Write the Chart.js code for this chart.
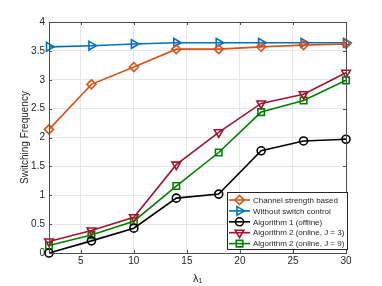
<!DOCTYPE html>
<html>
<head>
<meta charset="utf-8">
<script src="https://cdn.jsdelivr.net/npm/chart.js@4"></script>
<style>
  html, body { margin: 0; padding: 0; background: #fff; }
  #wrap { width: 382px; height: 286px; position: relative; }
</style>
</head>
<body>
<div id="wrap"><canvas id="chart" width="382" height="286"></canvas></div>
<script>
// lambda_1 values on the x axis
const lambdas = [2, 6, 10, 14, 18, 22, 26, 30];
const xTicks = [5, 10, 15, 20, 25, 30];

// switching frequency for each scheme
const channelStrength = [2.14, 2.92, 3.22, 3.53, 3.53, 3.57, 3.60, 3.62];
const noSwitchControl = [3.57, 3.59, 3.62, 3.64, 3.64, 3.64, 3.64, 3.64];
const algo1Offline = [0.0, 0.21, 0.43, 0.95, 1.02, 1.77, 1.94, 1.97];
const algo2J3 = [0.20, 0.39, 0.62, 1.53, 2.09, 2.59, 2.75, 3.12];
const algo2J9 = [0.13, 0.31, 0.55, 1.16, 1.74, 2.44, 2.64, 2.99];

const FONT = 'Liberation Sans, Arial, Helvetica, sans-serif';

function series(label, values, color, style, rotation, radius) {
    return {
        label: label,
        data: lambdas.map((x, i) => ({ x: x, y: values[i] })),
        borderColor: color,
        borderWidth: 1.6,
        pointStyle: style,
        rotation: rotation,
        pointRadius: radius,
        pointBorderWidth: 1.6,
        pointBorderColor: color,
        pointBackgroundColor: 'rgba(0,0,0,0)',
        clip: false,
        tension: 0
    };
}

const datasets = [
    series('Channel strength based', channelStrength, '#D95319', 'rectRot', 0, 4.5),
    series('Without switch control', noSwitchControl, '#0072BD', 'triangle', 90, 5),
    series('Algorithm 1 (offline)', algo1Offline, '#000000', 'circle', 0, 4),
    series('Algorithm 2 (online, J = 3)', algo2J3, '#A2142F', 'triangle', 180, 5),
    series('Algorithm 2 (online, J = 9)', algo2J9, '#008000', 'rect', 0, 4.6)
];

// box around the axes with inward ticks, plus the legend in the lower right
const matlabFrame = {
    id: 'matlabFrame',
    afterDatasetsDraw(chart) {
        const ctx = chart.ctx;
        const a = chart.chartArea;
        const xs = chart.scales.x, ys = chart.scales.y;
        ctx.save();
        ctx.strokeStyle = '#4d4d4d';
        ctx.lineWidth = 1;
        ctx.strokeRect(a.left + 0.5, a.top + 0.5, a.right - a.left, a.bottom - a.top);
        ctx.beginPath();
        xTicks.forEach(t => {
            const px = Math.round(xs.getPixelForValue(t)) + 0.5;
            ctx.moveTo(px, a.bottom); ctx.lineTo(px, a.bottom - 3);
            ctx.moveTo(px, a.top); ctx.lineTo(px, a.top + 3);
        });
        for (let v = 0; v <= 4; v += 0.5) {
            const py = Math.round(ys.getPixelForValue(v)) + 0.5;
            ctx.moveTo(a.left, py); ctx.lineTo(a.left + 3, py);
            ctx.moveTo(a.right, py); ctx.lineTo(a.right - 3, py);
        }
        ctx.stroke();

        // legend
        const bx = 227, by = 192, bw = 120, bh = 57, rowH = 10.9;
        ctx.fillStyle = '#fff';
        ctx.fillRect(bx, by, bw, bh);
        ctx.strokeStyle = '#262626';
        ctx.strokeRect(bx + 0.5, by + 0.5, bw, bh);
        ctx.font = '8px ' + FONT;
        ctx.textBaseline = 'middle';
        chart.data.datasets.forEach((ds, i) => {
            const cy = by + 8 + i * rowH;
            ctx.strokeStyle = ds.borderColor;
            ctx.lineWidth = ds.borderWidth;
            ctx.beginPath();
            ctx.moveTo(bx + 2, cy); ctx.lineTo(bx + 23, cy);
            ctx.stroke();
            ctx.fillStyle = 'rgba(0,0,0,0)';
            Chart.helpers.drawPoint(ctx, {
                pointStyle: ds.pointStyle,
                rotation: ds.rotation,
                radius: ds.pointRadius,
                borderWidth: ds.pointBorderWidth
            }, bx + 12.5, cy);
            ctx.fillStyle = '#262626';
            ctx.fillText(ds.label, bx + 26, cy + 0.5);
        });
        ctx.restore();
    }
};

const ctx = document.getElementById('chart').getContext('2d');
new Chart(ctx, {
    type: 'line',
    data: { datasets: datasets },
    options: {
        responsive: false,
        animation: false,
        layout: { padding: { top: 22, right: 36, left: 19, bottom: 0 } },
        plugins: { legend: { display: false }, tooltip: { enabled: false } },
        scales: {
            x: {
                type: 'linear',
                min: 2,
                max: 30,
                afterBuildTicks: s => { s.ticks = xTicks.map(v => ({ value: v })); },
                afterFit: s => { s.height = 33; },
                ticks: { color: '#262626', font: { family: FONT, size: 10 }, padding: 2, maxRotation: 0 },
                grid: { color: '#e6e6e6', drawTicks: false },
                border: { display: false },
                title: {
                    display: true,
                    text: 'λ₁',
                    color: '#262626',
                    font: { family: FONT, size: 11 },
                    padding: { top: 3, bottom: 0 }
                }
            },
            y: {
                min: 0,
                max: 4,
                afterFit: s => { s.width = 30; },
                ticks: {
                    stepSize: 0.5,
                    color: '#262626',
                    font: { family: FONT, size: 10 },
                    padding: 4,
                    callback: v => String(v)
                },
                grid: { color: '#e6e6e6', drawTicks: false },
                border: { display: false },
                title: {
                    display: true,
                    text: 'Switching Frequency',
                    color: '#262626',
                    font: { family: FONT, size: 10 },
                    padding: { top: 0, bottom: 0 }
                }
            }
        }
    },
    plugins: [matlabFrame]
});
</script>
</body>
</html>
